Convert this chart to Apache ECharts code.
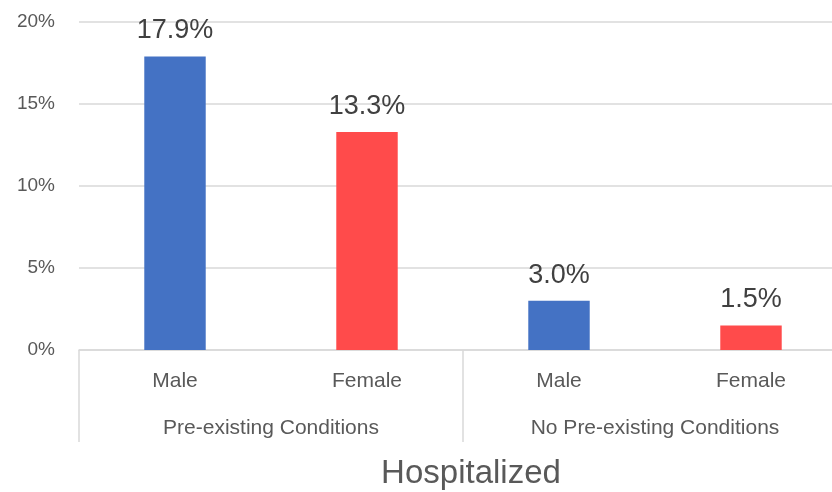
<!DOCTYPE html>
<html>
<head>
<meta charset="utf-8">
<script src="https://cdn.jsdelivr.net/npm/echarts@6/dist/echarts.min.js"></script>
<style>html,body{margin:0;padding:0;background:#fff;}#chart{width:832px;height:492px;}</style>
</head>
<body>
<div id="chart"></div>
<script>
const categories = ['Male', 'Female', 'Male', 'Female'];
const groups = ['Pre-existing Conditions', 'No Pre-existing Conditions'];
const values = [17.9, 13.3, 3.0, 1.5];
const colorsBySex = { Male: '#4472C4', Female: '#FF4B4B' };
const axisTitle = 'Hospitalized';

const FONT = '"Liberation Sans", Arial, sans-serif';
const chart = echarts.init(document.getElementById('chart'));
chart.setOption({
  animation: false,
  textStyle: { fontFamily: FONT },
  grid: { left: 79, width: 768, top: 22, height: 328, containLabel: false, outerBoundsMode: 'none' },
  xAxis: [
    {
      type: 'category',
      data: categories,
      axisLine: { show: true, lineStyle: { color: '#d9d9d9', width: 1.5 } },
      axisTick: { show: false },
      axisLabel: { color: '#595959', fontSize: 21, margin: 21, fontFamily: FONT },
      name: axisTitle,
      nameLocation: 'middle',
      nameGap: 107,
      nameTextStyle: { color: '#595959', fontSize: 33, fontFamily: FONT, padding: [0, 0, 0, 16] }
    },
    {
      type: 'category',
      data: groups,
      position: 'bottom',
      axisLine: { show: false },
      axisTick: { show: true, length: 92, lineStyle: { color: '#d9d9d9', width: 1.5 } },
      axisLabel: { color: '#595959', fontSize: 21, margin: 68, fontFamily: FONT },
      splitLine: { show: false }
    }
  ],
  yAxis: {
    type: 'value',
    min: 0,
    max: 20,
    interval: 5,
    axisLine: { show: false },
    axisTick: { show: false },
    axisLabel: { formatter: '{value}%', color: '#595959', fontSize: 19, margin: 24, fontFamily: FONT },
    splitLine: { lineStyle: { color: '#d9d9d9', width: 1.5 } }
  },
  series: [{
    type: 'bar',
    xAxisIndex: 0,
    barWidth: '32%',
    data: values.map((v, i) => ({ value: v, itemStyle: { color: colorsBySex[categories[i]] } })),
    label: {
      show: true,
      position: 'top',
      distance: 12,
      color: '#404040',
      fontSize: 27,
      fontFamily: FONT,
      formatter: p => p.value.toFixed(1) + '%'
    }
  }]
});
</script>
</body>
</html>
